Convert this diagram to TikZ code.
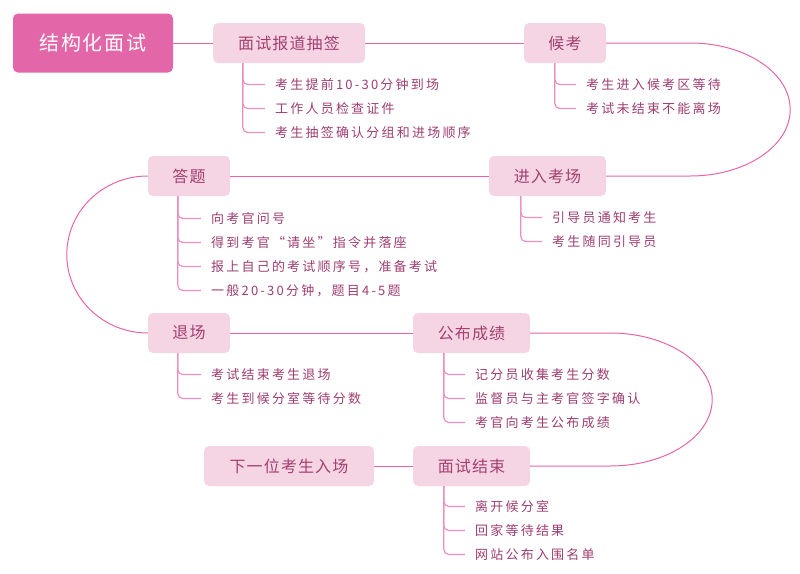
\documentclass[tikz,border=0pt]{standalone}
\usepackage{fontspec}
\setmainfont{Noto Sans CJK SC}
\newfontfamily\rootfont[LetterSpace=8]{Noto Sans CJK SC}
\newfontfamily\nodefont[LetterSpace=7]{Noto Sans CJK SC}
\newfontfamily\itemfont[LetterSpace=17]{Noto Sans CJK SC}
\definecolor{rootfill}{HTML}{E366A8}
\definecolor{nodefill}{HTML}{F5D4E4}
\definecolor{nodetext}{HTML}{A3406F}
\definecolor{itemtext}{HTML}{9E3D70}
\definecolor{mainline}{HTML}{E565A8}
\definecolor{subline}{HTML}{EB8FC0}
\tikzset{
  rootbox/.style={fill=rootfill, rounded corners=5pt, text=white, font=\rootfont\fontsize{20}{24}\selectfont, minimum height=59pt, inner sep=0pt},
  stepbox/.style={fill=nodefill, rounded corners=5pt, text=nodetext, font=\nodefont\fontsize{16}{19}\selectfont, minimum height=40pt, inner sep=0pt},
  itembox/.style={anchor=west, inner sep=0pt, yshift=-1.5pt, text=itemtext, font=\itemfont\fontsize{13}{15}\selectfont},
  mainconn/.style={draw=mainline, line width=1pt},
  subconn/.style={draw=subline, line width=1.2pt, rounded corners=5pt},
}
\begin{document}
\begin{tikzpicture}[x=1pt,y=-1pt]
\useasboundingbox (0,0) rectangle (800,573);
% main nodes
\node[rootbox, minimum width=160pt] (root) at (93,43) {结构化面试};
\node[stepbox, minimum width=152pt] (n1) at (289,43) {面试报道抽签};
\node[stepbox, minimum width=82pt] (n2) at (565,43) {候考};
\node[stepbox, minimum width=117pt] (n3) at (547.5,176) {进入考场};
\node[stepbox, minimum width=82pt] (n4) at (189,176) {答题};
\node[stepbox, minimum width=82pt] (n5) at (189,333) {退场};
\node[stepbox, minimum width=117pt] (n6) at (471.5,333) {公布成绩};
\node[stepbox, minimum width=117pt] (n7) at (471.5,466) {面试结束};
\node[stepbox, minimum width=170pt] (n8) at (289,466) {下一位考生入场};
% main connectors
\draw[mainconn] (root.east) -- (n1.west);
\draw[mainconn] (n1.east) -- (n2.west);
\draw[mainconn] (n2.east) -- ++(84,0) arc[start angle=-90, end angle=90, x radius=100, y radius=66.5] -- (n3.east);
\draw[mainconn] (n3.west) -- (n4.east);
\draw[mainconn] (n4.west) arc[start angle=-90, end angle=-270, x radius=81, y radius=78.5] -- (n5.west);
\draw[mainconn] (n5.east) -- (n6.west);
\draw[mainconn] (n6.east) -- ++(80,0) arc[start angle=-90, end angle=90, x radius=102, y radius=66.5] -- (n7.east);
\draw[mainconn] (n7.west) -- (n8.east);
% items
\node[itembox] (a1) at (275,83) {考生提前10-30分钟到场};
\node[itembox] (a2) at (275,107) {工作人员检查证件};
\node[itembox] (a3) at (275,131) {考生抽签确认分组和进场顺序};
\node[itembox] (b1) at (586,83) {考生进入候考区等待};
\node[itembox] (b2) at (586,107) {考试未结束不能离场};
\node[itembox] (c1) at (552,216) {引导员通知考生};
\node[itembox] (c2) at (552,240) {考生随同引导员};
\node[itembox] (d1) at (211,217) {向考官问号};
\node[itembox] (d2) at (211,241) {得到考官“请坐”指令并落座};
\node[itembox] (d3) at (211,265) {报上自己的考试顺序号，准备考试};
\node[itembox] (d4) at (211,289) {一般20-30分钟，题目4-5题};
\node[itembox] (e1) at (211,373) {考试结束考生退场};
\node[itembox] (e2) at (211,397) {考生到候分室等待分数};
\node[itembox] (f1) at (475,373) {记分员收集考生分数};
\node[itembox] (f2) at (475,397) {监督员与主考官签字确认};
\node[itembox] (f3) at (475,421) {考官向考生公布成绩};
\node[itembox] (g1) at (475,505) {离开候分室};
\node[itembox] (g2) at (475,529) {回家等待结果};
\node[itembox] (g3) at (475,553) {网站公布入围名单};
% sub connectors
\foreach \p/\dx/\items in {n1/30/{a1,a2,a3}, n2/31/{b1,b2}, n3/32/{c1,c2}, n4/30/{d1,d2,d3,d4}, n5/30/{e1,e2}, n6/31/{f1,f2,f3}, n7/31/{g1,g2,g3}}{
  \foreach \i in \items {
    \draw[subconn] ([xshift=\dx pt]\p.south west) |- ([xshift=-10pt]\i.west);
  }
}
\end{tikzpicture}
\end{document}
